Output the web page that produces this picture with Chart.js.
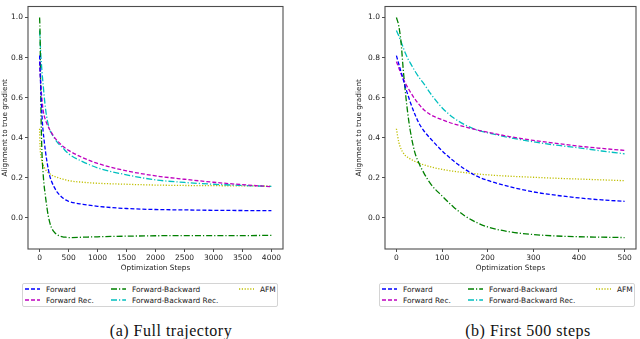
<!DOCTYPE html>
<html>
<head>
<meta charset="utf-8">
<script src="https://cdn.jsdelivr.net/npm/chart.js@4.4.1/dist/chart.umd.min.js"></script>
<style>
  body { margin: 0; background: #fff; width: 640px; height: 339px; position: relative; overflow: hidden; font-family: "DejaVu Sans", sans-serif; }
  canvas { position: absolute; top: 0; }
  #chartA { left: 0; }
  #chartB { left: 350px; }
  .legend { position: absolute; top: 283px; width: 256px; height: 24px; border: 1px solid #d4d4d4; border-radius: 2px; box-sizing: border-box; }
  .legend .item { position: absolute; display: flex; align-items: center; height: 10px; font-size: 7.4px; color: #222; white-space: nowrap; }
  .legend svg { margin-right: 6px; }
  .caption { position: absolute; top: 322px; line-height: 18px; font-family: "Liberation Serif", serif; font-size: 16px; letter-spacing: 0.5px; color: #111; transform: translateX(-50%); white-space: nowrap; }
</style>
</head>
<body>
<canvas id="chartA" width="290" height="275"></canvas>
<canvas id="chartB" width="290" height="275"></canvas>
<div class="legend" id="legendA" style="left:22px"></div>
<div class="legend" id="legendB" style="left:379px"></div>
<div class="caption" style="left:171px">(a) Full trajectory</div>
<div class="caption" style="left:528px">(b) First 500 steps</div>
<script>
// values
const steps = [0, 5, 10, 15, 20, 25, 30, 40, 50, 60, 75, 100, 125, 150, 175, 200, 250, 300, 350, 400, 450, 500, 750, 1000, 1500, 2000, 2500, 3000, 3500, 4000];
const forward = [0.81, 0.77, 0.73, 0.69, 0.65, 0.615, 0.58, 0.52, 0.47, 0.435, 0.395, 0.335, 0.285, 0.243, 0.21, 0.187, 0.155, 0.13, 0.113, 0.1, 0.09, 0.083, 0.068, 0.058, 0.047, 0.042, 0.04, 0.038, 0.037, 0.036];
const forwardRec = [0.78, 0.75, 0.72, 0.695, 0.67, 0.65, 0.63, 0.595, 0.565, 0.54, 0.515, 0.49, 0.47, 0.455, 0.44, 0.428, 0.405, 0.387, 0.372, 0.358, 0.347, 0.337, 0.3, 0.272, 0.235, 0.21, 0.193, 0.178, 0.166, 0.156];
const forwardBackward = [1.0, 0.96, 0.88, 0.74, 0.62, 0.52, 0.44, 0.33, 0.27, 0.225, 0.17, 0.11, 0.055, 0.01, -0.022, -0.045, -0.07, -0.083, -0.09, -0.094, -0.096, -0.098, -0.096, -0.094, -0.091, -0.089, -0.088, -0.088, -0.088, -0.087];
const forwardBackwardRec = [0.935, 0.91, 0.88, 0.85, 0.82, 0.795, 0.775, 0.735, 0.70, 0.67, 0.62, 0.55, 0.50, 0.465, 0.44, 0.425, 0.40, 0.38, 0.363, 0.35, 0.334, 0.32, 0.28, 0.25, 0.215, 0.19, 0.177, 0.168, 0.162, 0.157];
const afm = [0.445, 0.38, 0.345, 0.325, 0.31, 0.302, 0.295, 0.283, 0.273, 0.265, 0.255, 0.242, 0.233, 0.226, 0.22, 0.215, 0.208, 0.203, 0.198, 0.194, 0.19, 0.186, 0.178, 0.173, 0.168, 0.164, 0.162, 0.161, 0.16, 0.159];

const seriesNames = ['Forward', 'Forward Rec.', 'Forward-Backward', 'Forward-Backward Rec.', 'AFM'];
const seriesValues = [forward, forwardRec, forwardBackward, forwardBackwardRec, afm];

const xTicksFull = [0, 500, 1000, 1500, 2000, 2500, 3000, 3500, 4000];
const xTicksFirst = [0, 100, 200, 300, 400, 500];
const yTicks = [0.0, 0.2, 0.4, 0.6, 0.8, 1.0];

// matplotlib style: b--, m--, g-., c-., y:
const DASHED = [4, 2];
const DASHDOT = [6, 2, 1.2, 2];
const DOTTED = [1.2, 1.6];
const styles = [
  { color: '#0000ff', dash: DASHED },
  { color: '#bf00bf', dash: DASHED },
  { color: '#008000', dash: DASHDOT },
  { color: '#00bfbf', dash: DASHDOT },
  { color: '#bfbf00', dash: DOTTED }
];

const AXIS = '#4d4d4d';
const tickFont = { family: 'DejaVu Sans', size: 7.5 };
const titleFont = { family: 'DejaVu Sans', size: 7.3 };

// box around the axes, drawn over the curves like matplotlib does
const frame = {
  id: 'frame',
  afterDatasetsDraw(chart) {
    const { ctx, chartArea: a } = chart;
    ctx.save();
    ctx.strokeStyle = AXIS;
    ctx.lineWidth = 1.1;
    ctx.strokeRect(a.left, a.top, a.right - a.left, a.bottom - a.top);
    ctx.restore();
  }
};

function makeDatasets(maxStep) {
  return seriesNames.map((name, i) => ({
    label: name,
    data: steps.map((s, j) => ({ x: s, y: seriesValues[i][j] })).filter(p => p.x <= maxStep),
    borderColor: styles[i].color,
    borderDash: styles[i].dash,
    borderWidth: 1.3,
    pointRadius: 0,
    fill: false,
    cubicInterpolationMode: 'monotone'
  }));
}

function makeChart(id, maxStep, xMin, xMax, xTicks, yWidth, yTitlePad, padRight) {
  const ctx = document.getElementById(id).getContext('2d');
  return new Chart(ctx, {
    type: 'line',
    data: { datasets: makeDatasets(maxStep) },
    options: {
      responsive: false,
      animation: false,
      layout: { padding: { top: 2, right: padRight, left: 0, bottom: 0 } },
      plugins: { legend: { display: false }, tooltip: { enabled: false } },
      scales: {
        x: {
          type: 'linear',
          min: xMin,
          max: xMax,
          afterBuildTicks: s => { s.ticks = xTicks.map(v => ({ value: v })); },
          afterFit: s => { s.height = 26; },
          grid: { drawOnChartArea: false, drawTicks: true, tickLength: 3, tickColor: AXIS },
          border: { display: false },
          ticks: { font: tickFont, color: '#222', padding: 1.5, maxRotation: 0, autoSkip: false, callback: v => String(v) },
          title: { display: true, text: 'Optimization Steps', font: titleFont, color: '#222', padding: { top: 0, bottom: 2.7 } }
        },
        y: {
          min: -0.155,
          max: 1.055,
          afterBuildTicks: s => { s.ticks = yTicks.map(v => ({ value: v })); },
          afterFit: s => { s.width = yWidth; },
          grid: { drawOnChartArea: false, drawTicks: true, tickLength: 3, tickColor: AXIS },
          border: { display: false },
          ticks: { font: tickFont, color: '#222', padding: 2, callback: v => v.toFixed(1) },
          title: { display: true, text: 'Alignment to true gradient', font: titleFont, color: '#222', padding: { top: yTitlePad, bottom: 0 } }
        }
      }
    },
    plugins: [frame]
  });
}

const chartA = makeChart('chartA', 4000, -200, 4200, xTicksFull, 28, 0.5, 7);
const chartB = makeChart('chartB', 500, -25, 525, xTicksFirst, 35, 4.5, 4);

// legend below each panel, three columns filled top-down like matplotlib ncol=3
const colLeft = [3, 89, 217];
const rowTop = [0, 11];
function buildLegend(chart, boxId) {
  const box = document.getElementById(boxId);
  chart.data.datasets.forEach((ds, i) => {
    const item = document.createElement('div');
    item.className = 'item';
    item.style.left = (colLeft[Math.floor(i / 2)] - 1) + 'px';
    item.style.top = rowTop[i % 2] + 'px';
    const svg = document.createElementNS('http://www.w3.org/2000/svg', 'svg');
    svg.setAttribute('width', '15');
    svg.setAttribute('height', '6');
    const line = document.createElementNS('http://www.w3.org/2000/svg', 'line');
    line.setAttribute('x1', '0'); line.setAttribute('y1', '3');
    line.setAttribute('x2', '15'); line.setAttribute('y2', '3');
    line.setAttribute('stroke', ds.borderColor);
    line.setAttribute('stroke-width', ds.borderWidth);
    line.setAttribute('stroke-dasharray', ds.borderDash.join(' '));
    svg.appendChild(line);
    item.appendChild(svg);
    item.appendChild(document.createTextNode(ds.label));
    box.appendChild(item);
  });
}
buildLegend(chartA, 'legendA');
buildLegend(chartB, 'legendB');
</script>
</body>
</html>
